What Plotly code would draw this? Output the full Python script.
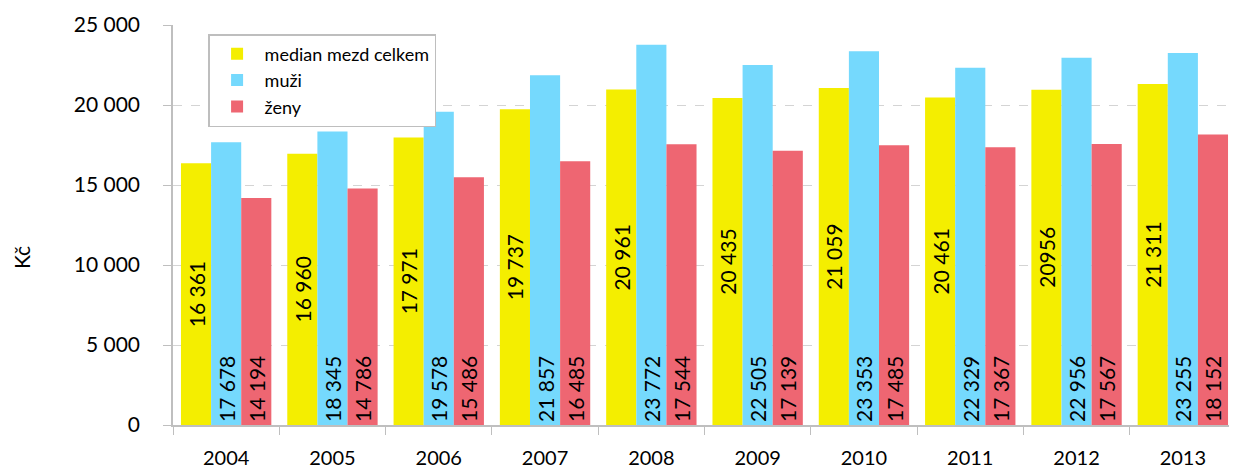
import plotly.graph_objects as go

years = ["2004", "2005", "2006", "2007", "2008", "2009", "2010", "2011", "2012", "2013"]
median = [16361, 16960, 17971, 19737, 20961, 20435, 21059, 20461, 20956, 21311]
muzi = [17678, 18345, 19578, 21857, 23772, 22505, 23353, 22329, 22956, 23255]
zeny = [14194, 14786, 15486, 16485, 17544, 17139, 17485, 17367, 17567, 18152]
series_names = ["median mezd celkem", "muži", "ženy"]
colors = ["#F4EE00", "#75D9FD", "#EE6672"]

PAD = "&nbsp;" * 3  # lifts base-anchored labels off the bar base


def fmt(v):
    return f"{v:,}".replace(",", " ")


median_text = [fmt(v) for v in median]
median_text[8] = "20956"  # shown without separator in the original
muzi_text = [fmt(v) + PAD for v in muzi]
zeny_text = [fmt(v) + PAD for v in zeny]

FONT = "Lato, 'Open Sans', sans-serif"

fig = go.Figure()
for name, vals, txt, col, anchor in [
    (series_names[0], median, median_text, colors[0], "middle"),
    (series_names[1], muzi, muzi_text, colors[1], "start"),
    (series_names[2], zeny, zeny_text, colors[2], "start"),
]:
    fig.add_trace(go.Bar(
        x=years, y=vals, name=name, marker=dict(color=col, line=dict(width=0)),
        text=txt, textposition="inside", textangle=-90, insidetextanchor=anchor,
        textfont=dict(size=21, color="black", family=FONT),
        constraintext="none", hoverinfo="skip",
    ))

# page body has an 8px margin, so the figure is 8px smaller and margins 8px less
fig.update_layout(
    width=1229, height=463,
    margin=dict(l=165, r=1, t=17, b=46, autoexpand=False),
    paper_bgcolor="white", plot_bgcolor="white",
    barmode="group", bargap=0.15, bargroupgap=0,
    separators=", ",
    font=dict(family=FONT, size=21, color="black"),
    showlegend=True,
    legend=dict(
        x=0.033, y=0.9775, xanchor="left", yanchor="top",
        bordercolor="#BEBEBE", borderwidth=1.5, bgcolor="white",
        font=dict(size=18, family=FONT), itemwidth=45,
        tracegroupgap=0,
    ),
    xaxis=dict(
        type="category", showline=True, linecolor="#BFBFBF", linewidth=1.5,
        ticks="outside", tickson="boundaries", ticklen=8, tickcolor="#BFBFBF",
        showgrid=False, tickfont=dict(size=20), ticklabelstandoff=14,
        automargin=False,
    ),
    yaxis=dict(
        range=[0, 25000], dtick=5000, tickformat=",d",
        showline=True, linecolor="#BFBFBF", linewidth=1.5,
        ticks="outside", ticklen=8, tickcolor="#BFBFBF",
        showgrid=True, gridcolor="#D4D4D4", griddash="dash", gridwidth=1,
        zeroline=False, tickfont=dict(size=21), ticklabelstandoff=19,
        automargin=False,
    ),
    annotations=[dict(
        text="Kč", xref="paper", yref="paper", x=-152 / 1063, y=0.4175,
        xanchor="center", yanchor="middle", textangle=-90, showarrow=False,
        font=dict(size=21, family=FONT),
    )],
)

fig.write_html("out.html")
